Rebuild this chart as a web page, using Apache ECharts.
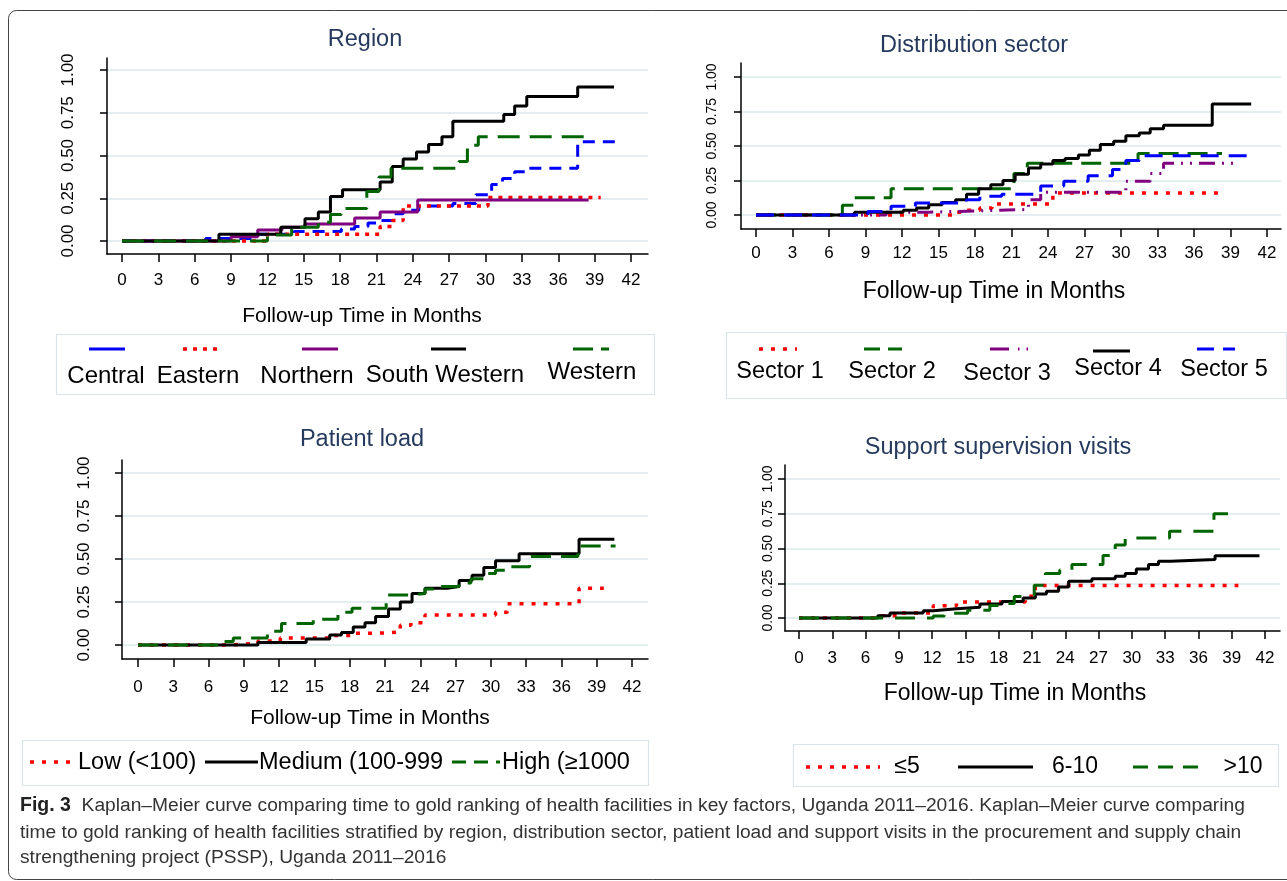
<!DOCTYPE html>
<html>
<head>
<meta charset="utf-8">
<script src="https://cdn.jsdelivr.net/npm/echarts@6/dist/echarts.min.js"></script>
<style>
  html, body { margin: 0; padding: 0; background: #fff; }
  #chart { width: 1287px; height: 881px; }
</style>
</head>
<body>
<div id="chart"></div>
<script>
// tick labels
const months = [0, 3, 6, 9, 12, 15, 18, 21, 24, 27, 30, 33, 36, 39, 42];
const yTicks = [0, 0.25, 0.5, 0.75, 1];

// Region: [month, cumulative proportion]
const central = [[0,0],[6.9,0.015],[11.2,0.04],[14.2,0.055],[18.1,0.07],[19.2,0.085],[20.3,0.105],[21.3,0.12],[22.3,0.16],[23.2,0.18],[24.5,0.205],[27.3,0.22],[29.2,0.27],[30.5,0.33],[31.4,0.365],[32.4,0.405],[33.3,0.425],[37.6,0.58],[40.9,0.58]];
const eastern = [[0,0],[12,0.04],[21.3,0.085],[22.3,0.12],[23.2,0.205],[30.2,0.255],[39.5,0.255]];
const northern = [[0,0],[9,0.025],[11.2,0.065],[13.2,0.08],[15.1,0.10],[19.2,0.135],[21.3,0.17],[24.4,0.24],[38.5,0.24]];
const southWestern = [[0,0],[8,0.04],[13.1,0.08],[15.1,0.13],[16.2,0.17],[17.2,0.26],[18.2,0.30],[21.3,0.345],[22.3,0.435],[23.2,0.48],[24.3,0.52],[25.3,0.565],[26.4,0.61],[27.3,0.70],[31.5,0.74],[32.4,0.79],[33.4,0.845],[37.6,0.90],[40.6,0.90]];
const western = [[0,0],[12,0.035],[14,0.08],[16.2,0.11],[17.2,0.155],[18.1,0.19],[20.2,0.29],[21.2,0.375],[22.2,0.425],[27.8,0.465],[28.5,0.56],[29.4,0.61],[38.9,0.61]];

// Distribution sector
const sector1 = [[0,0],[16.4,0.02],[17.3,0.035],[18.4,0.05],[19.4,0.08],[24.4,0.16],[38.1,0.16]];
const sector2 = [[0,0],[7.1,0.07],[8.1,0.125],[11.1,0.19],[21.2,0.30],[22.3,0.375],[31.4,0.445],[38.3,0.445]];
const sector3 = [[0,0],[10.7,0.02],[14.2,0.03],[18.2,0.04],[22.4,0.11],[23.4,0.165],[30.4,0.245],[32.4,0.30],[33.5,0.375],[39.4,0.375]];
const sector4 = [[0,0],[8.1,0.02],[12.1,0.035],[13.2,0.05],[14.2,0.075],[15.3,0.09],[16.4,0.11],[17.3,0.15],[18.3,0.19],[19.3,0.22],[20.3,0.25],[21.3,0.295],[22.4,0.34],[23.4,0.37],[24.4,0.395],[25.4,0.41],[26.5,0.435],[27.4,0.47],[28.3,0.51],[29.4,0.535],[30.4,0.575],[31.5,0.595],[32.4,0.625],[33.5,0.65],[37.5,0.805],[40.7,0.805]];
const sector5 = [[0,0],[9.2,0.026],[11.1,0.063],[13.1,0.087],[17.3,0.11],[18.4,0.135],[20.2,0.15],[23.4,0.21],[25.3,0.245],[27.3,0.285],[29.3,0.33],[30.4,0.395],[31.5,0.43],[40.9,0.43]];

// Patient load
const lowLoad = [[0,0],[7.9,0.01],[10.2,0.023],[12.1,0.04],[16.4,0.055],[18.2,0.068],[20.2,0.075],[22.3,0.115],[23.2,0.13],[24.4,0.175],[30.4,0.19],[31.4,0.24],[37.5,0.33],[39.6,0.33]];
const mediumLoad = [[0,0],[10.2,0.015],[14.3,0.035],[16.3,0.058],[17.3,0.073],[18.3,0.105],[19.3,0.13],[20.2,0.165],[21.3,0.21],[22.3,0.25],[23.3,0.30],[24.4,0.33],[26.3,0.34],[27.3,0.375],[28.4,0.405],[29.4,0.45],[30.4,0.49],[32.4,0.53],[37.5,0.615],[40.5,0.615]];
const highLoad = [[0,0],[7,0.02],[8.1,0.04],[11,0.08],[12.2,0.125],[14.9,0.15],[17,0.19],[18.2,0.213],[21.1,0.29],[23.3,0.30],[24.4,0.325],[25.4,0.34],[27.3,0.36],[28.3,0.385],[29.4,0.415],[30.4,0.435],[31.5,0.455],[33.3,0.515],[37.4,0.575],[40.6,0.575]];

// Support supervision visits
const visitsLow = [[0,0],[7.1,0.017],[9.1,0.036],[12.1,0.089],[14.2,0.115],[20.4,0.156],[21.3,0.233],[39.6,0.233]];
const visitsMid = [[0,0],[7.1,0.017],[8.2,0.036],[11.2,0.053],[12.1,0.067],[14.2,0.077],[16.3,0.10],[18.3,0.118],[20.2,0.144],[21.3,0.173],[22.3,0.192],[23.4,0.223],[24.3,0.264],[26.4,0.283],[28.5,0.30],[29.4,0.32],[30.4,0.353],[31.5,0.384],[32.4,0.408],[33.5,0.42],[37.5,0.448],[41.5,0.448]];
const visitsHigh = [[0,0],[12.1,0.015],[13.1,0.035],[15.2,0.055],[17.2,0.09],[18.3,0.105],[19.4,0.155],[20.4,0.165],[21.2,0.235],[22.2,0.32],[23.5,0.345],[24.6,0.385],[27.4,0.45],[28.5,0.525],[29.4,0.575],[33.4,0.625],[37.4,0.75],[39.5,0.75]];

const FONT = '"Liberation Sans", Arial, Helvetica, sans-serif';
const BLUE = '#0000ff', RED = '#ff0000', PURPLE = '#800080', BLACK = '#000000', GREEN = '#006400';
const DOT = [4, 6], DOT_WIDE = [4, 8];

// pixel layout of each panel: axis box, where 0 / 42 months and 0 / 1 fall
const panels = [
    { left: 107, right: 648, top: 58, bottom: 254, x0: 122, x42: 631, y0: 241, y1: 70,
      xMargin: 18, yMargin: 30, yFont: 17, title: 'Region', tx: 365, ty: 40, ax: 362, ay: 316, axFont: 21 },
    { left: 741, right: 1281, top: 63, bottom: 229, x0: 756, x42: 1267, y0: 215, y1: 77,
      xMargin: 16, yMargin: 22, yFont: 14, title: 'Distribution sector', tx: 974, ty: 46, ax: 994, ay: 292, axFont: 23 },
    { left: 122, right: 648, top: 460, bottom: 659, x0: 138, x42: 632, y0: 645, y1: 473,
      xMargin: 20, yMargin: 29, yFont: 17, title: 'Patient load', tx: 362, ty: 440, ax: 370, ay: 718, axFont: 21 },
    { left: 785, right: 1280, top: 465, bottom: 631, x0: 799, x42: 1265, y0: 618, y1: 479,
      xMargin: 19, yMargin: 10, yFont: 14, title: 'Support supervision visits', tx: 998, ty: 448, ax: 1015, ay: 694, axFont: 23 }
];

const panelSeries = [
    [
        { name: 'Central', data: central, color: BLUE, dash: [12, 8], width: 3 },
        { name: 'Eastern', data: eastern, color: RED, dash: DOT, width: 3.5 },
        { name: 'Northern', data: northern, color: PURPLE, dash: 'solid', width: 3 },
        { name: 'South Western', data: southWestern, color: BLACK, dash: 'solid', width: 3 },
        { name: 'Western', data: western, color: GREEN, dash: [22, 10], width: 3 }
    ],
    [
        { name: 'Sector 1', data: sector1, color: RED, dash: DOT_WIDE, width: 3.5 },
        { name: 'Sector 2', data: sector2, color: GREEN, dash: [20, 9], width: 3 },
        { name: 'Sector 3', data: sector3, color: PURPLE, dash: [16, 7, 2, 7, 2, 7], width: 3 },
        { name: 'Sector 4', data: sector4, color: BLACK, dash: 'solid', width: 3 },
        { name: 'Sector 5', data: sector5, color: BLUE, dash: [18, 10], width: 3 }
    ],
    [
        { name: 'Low (<100)', data: lowLoad, color: RED, dash: DOT_WIDE, width: 3.5 },
        { name: 'Medium (100-999', data: mediumLoad, color: BLACK, dash: 'solid', width: 3 },
        { name: 'High (≥1000', data: highLoad, color: GREEN, dash: [20, 10], width: 3 }
    ],
    [
        { name: '≤5', data: visitsLow, color: RED, dash: DOT_WIDE, width: 3.5 },
        { name: '6-10', data: visitsMid, color: BLACK, dash: 'solid', width: 3 },
        { name: '>10', data: visitsHigh, color: GREEN, dash: [20, 12], width: 3 }
    ]
];

function xRange(p) {
    const ppm = (p.x42 - p.x0) / 42;
    return [(p.left - p.x0) / ppm, (p.right - p.x0) / ppm];
}
function yRange(p) {
    const ppu = p.y0 - p.y1;
    return [-(p.bottom - p.y0) / ppu, 1 + (p.y1 - p.top) / ppu];
}

const grid = panels.map(p => ({ left: p.left, top: p.top, width: p.right - p.left, height: p.bottom - p.top }));

const xAxis = panels.map((p, i) => ({
    type: 'value', gridIndex: i,
    min: xRange(p)[0], max: xRange(p)[1],
    axisLine: { show: true, onZero: false, lineStyle: { color: '#000', width: 1.5 } },
    axisTick: { show: true, length: 8, customValues: months, lineStyle: { color: '#000', width: 1.5 } },
    axisLabel: { customValues: months, margin: p.xMargin, fontSize: 17, color: '#000', fontFamily: FONT },
    splitLine: { show: false }
}));

const yAxis = panels.map((p, i) => ({
    type: 'value', gridIndex: i,
    min: yRange(p)[0], max: yRange(p)[1],
    axisLine: { show: true, onZero: false, lineStyle: { color: '#000', width: 1.5 } },
    axisTick: { show: true, length: 7, customValues: yTicks, lineStyle: { color: '#000', width: 1.5 } },
    axisLabel: {
        customValues: yTicks, rotate: 90, margin: p.yMargin, fontSize: p.yFont,
        color: '#000', fontFamily: FONT, formatter: v => v.toFixed(2)
    },
    splitLine: { show: true, lineStyle: { color: '#e4eef1', width: 2 } }
}));

const series = [];
panelSeries.forEach((list, i) => {
    list.forEach(s => {
        series.push({
            name: s.name, type: 'line', step: 'end',
            xAxisIndex: i, yAxisIndex: i,
            data: s.data, showSymbol: false, symbol: 'none',
            lineStyle: { color: s.color, width: s.width, type: s.dash },
            silent: true
        });
    });
});

// ---- graphic: titles, legends, caption, frame
const graphic = [];

function text(x, y, str, size, opts) {
    graphic.push({
        type: 'text', x: x, y: y, silent: true,
        style: Object.assign({
            text: str, fontSize: size, fontFamily: FONT, fill: '#000',
            align: 'center', verticalAlign: 'middle'
        }, opts || {})
    });
}
function sample(x1, x2, y, s) {
    graphic.push({
        type: 'line', silent: true,
        shape: { x1: x1, y1: y, x2: x2, y2: y },
        style: { stroke: s.color, lineWidth: s.width, lineDash: s.dash === 'solid' ? null : s.dash }
    });
}
function box(x, y, w, h) {
    graphic.push({
        type: 'rect', silent: true, shape: { x: x, y: y, width: w, height: h },
        style: { fill: null, stroke: '#d9e5e9', lineWidth: 1.2 }
    });
}

// outer figure frame
graphic.push({
    type: 'rect', silent: true,
    shape: { x: 8.5, y: 10.5, width: 1300, height: 869, r: 8 },
    style: { fill: null, stroke: '#444', lineWidth: 1 }
});

panels.forEach(p => {
    text(p.tx, p.ty, p.title, 23.5, { fill: '#263a5e' });
    text(p.ax, p.ay, 'Follow-up Time in Months', p.axFont);
});

// Region legend (sample above label)
box(56.5, 334.5, 598, 60);
const regionLegend = [
    { x1: 89, x2: 125, tx: 106, ty: 376 },
    { x1: 183, x2: 220, tx: 198, ty: 376 },
    { x1: 302, x2: 338, tx: 307, ty: 376 },
    { x1: 431, x2: 466, tx: 445, ty: 375 },
    { x1: 573, x2: 609, tx: 592, ty: 372 }
];
regionLegend.forEach((l, k) => {
    const s = panelSeries[0][k];
    sample(l.x1, l.x2, 349, k === 0 ? Object.assign({}, s, { dash: 'solid' }) : (k === 4 ? Object.assign({}, s, { dash: [20, 8] }) : s));
    text(l.tx, l.ty, s.name, 24);
});

// Sector legend
box(726.5, 332.5, 560, 66);
const sectorLegend = [
    { x1: 759, x2: 797, y: 349, tx: 780, ty: 372 },
    { x1: 864, x2: 902, y: 349, tx: 892, ty: 372 },
    { x1: 990, x2: 1029, y: 349, tx: 1007, ty: 374 },
    { x1: 1093, x2: 1130, y: 351, tx: 1118, ty: 369 },
    { x1: 1197, x2: 1235, y: 349, tx: 1224, ty: 370 }
];
sectorLegend.forEach((l, k) => {
    const s = panelSeries[1][k];
    let st = s;
    if (k === 1) st = Object.assign({}, s, { dash: [16, 8] });
    if (k === 2) st = Object.assign({}, s, { dash: [19, 9, 1.5, 7, 1.5, 40] });
    if (k === 4) st = Object.assign({}, s, { dash: [17, 9] });
    sample(l.x1, l.x2, l.y, st);
    text(l.tx, l.ty, s.name, 23.5);
});

// Patient load legend (sample left of label)
box(22.5, 740.5, 626, 45);
const loadLegend = [
    { x1: 30, x2: 76, tx: 78 },
    { x1: 205, x2: 258, tx: 259 },
    { x1: 452, x2: 500, tx: 502 }
];
loadLegend.forEach((l, k) => {
    const s = panelSeries[2][k];
    sample(l.x1, l.x2, 762, k === 2 ? Object.assign({}, s, { dash: [14, 8] }) : s);
    text(l.tx, 763, s.name, 23.5, { align: 'left' });
});

// Support visits legend
box(793.5, 744.5, 485, 42);
const visitLegend = [
    { x1: 806, x2: 880, tx: 907 },
    { x1: 958, x2: 1033, tx: 1075 },
    { x1: 1133, x2: 1207, tx: 1243 }
];
visitLegend.forEach((l, k) => {
    const s = panelSeries[3][k];
    sample(l.x1, l.x2, 767, k === 2 ? Object.assign({}, s, { dash: [15, 10] }) : s);
    text(l.tx, 767, s.name, 23);
});

// caption
const captionLines = [
    '{b|Fig. 3}  Kaplan–Meier curve comparing time to gold ranking of health facilities in key factors, Uganda 2011–2016. Kaplan–Meier curve comparing',
    'time to gold ranking of health facilities stratified by region, distribution sector, patient load and support visits in the procurement and supply chain',
    'strengthening project (PSSP), Uganda 2011–2016'
];
const captionY = [806, 833, 858];
captionLines.forEach((line, k) => {
    graphic.push({
        type: 'text', x: 20, y: captionY[k], silent: true,
        style: {
            text: line, fontSize: 19.2, fontFamily: FONT, fill: '#333',
            align: 'left', verticalAlign: 'middle',
            rich: { b: { fontWeight: 'bold', fontSize: 19.5, fontFamily: FONT, fill: '#222' } }
        }
    });
});

const chart = echarts.init(document.getElementById('chart'), null, { renderer: 'canvas' });
chart.setOption({
    animation: false,
    backgroundColor: '#ffffff',
    grid: grid,
    xAxis: xAxis,
    yAxis: yAxis,
    series: series,
    graphic: graphic
});
</script>
</body>
</html>
